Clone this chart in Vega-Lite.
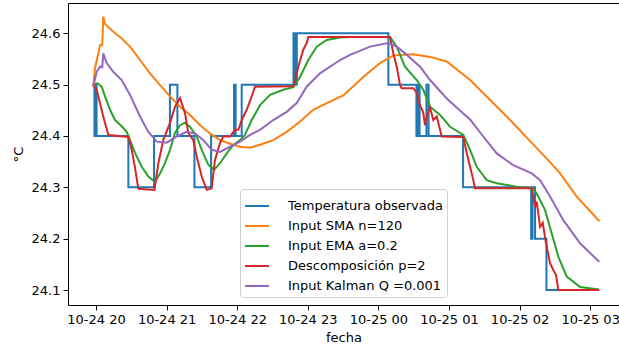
{
  "$schema": "https://vega.github.io/schema/vega-lite/v6.json",
  "width": 551,
  "height": 302,
  "autosize": {"type": "none"},
  "padding": {"left": 68, "top": 3, "right": 0, "bottom": 42},
  "config": {
    "font": "DejaVu Sans",
    "view": {"stroke": null},
    "axis": {
      "labelFontSize": 13, "titleFontSize": 13, "labelColor": "black", "titleColor": "black",
      "titleFontWeight": "normal", "domainColor": "black", "tickColor": "black", "grid": false,
      "tickSize": 5, "labelPadding": 3, "domainWidth": 1, "tickWidth": 1
    },
    "legend": {"labelFontSize": 13, "labelColor": "black"}
  },
  "datasets": {
    "obs": [
      {"fecha": "2021-10-24T19:57:00", "valor": 24.5, "serie": "Temperatura observada"},
      {"fecha": "2021-10-24T19:58:40", "valor": 24.4, "serie": "Temperatura observada"},
      {"fecha": "2021-10-24T19:59:30", "valor": 24.5, "serie": "Temperatura observada"},
      {"fecha": "2021-10-24T20:00:30", "valor": 24.4, "serie": "Temperatura observada"},
      {"fecha": "2021-10-24T20:27:30", "valor": 24.3, "serie": "Temperatura observada"},
      {"fecha": "2021-10-24T20:49:20", "valor": 24.4, "serie": "Temperatura observada"},
      {"fecha": "2021-10-24T21:02:50", "valor": 24.5, "serie": "Temperatura observada"},
      {"fecha": "2021-10-24T21:09:10", "valor": 24.4, "serie": "Temperatura observada"},
      {"fecha": "2021-10-24T21:23:40", "valor": 24.3, "serie": "Temperatura observada"},
      {"fecha": "2021-10-24T21:37:50", "valor": 24.4, "serie": "Temperatura observada"},
      {"fecha": "2021-10-24T21:57:20", "valor": 24.5, "serie": "Temperatura observada"},
      {"fecha": "2021-10-24T21:58:40", "valor": 24.4, "serie": "Temperatura observada"},
      {"fecha": "2021-10-24T22:03:50", "valor": 24.5, "serie": "Temperatura observada"},
      {"fecha": "2021-10-24T22:47:50", "valor": 24.6, "serie": "Temperatura observada"},
      {"fecha": "2021-10-24T22:49:10", "valor": 24.5, "serie": "Temperatura observada"},
      {"fecha": "2021-10-24T22:50:40", "valor": 24.6, "serie": "Temperatura observada"},
      {"fecha": "2021-10-25T00:08:30", "valor": 24.5, "serie": "Temperatura observada"},
      {"fecha": "2021-10-25T00:32:20", "valor": 24.4, "serie": "Temperatura observada"},
      {"fecha": "2021-10-25T00:33:40", "valor": 24.5, "serie": "Temperatura observada"},
      {"fecha": "2021-10-25T00:35:00", "valor": 24.4, "serie": "Temperatura observada"},
      {"fecha": "2021-10-25T00:40:50", "valor": 24.5, "serie": "Temperatura observada"},
      {"fecha": "2021-10-25T00:42:40", "valor": 24.4, "serie": "Temperatura observada"},
      {"fecha": "2021-10-25T01:12:00", "valor": 24.3, "serie": "Temperatura observada"},
      {"fecha": "2021-10-25T02:09:50", "valor": 24.2, "serie": "Temperatura observada"},
      {"fecha": "2021-10-25T02:11:00", "valor": 24.3, "serie": "Temperatura observada"},
      {"fecha": "2021-10-25T02:13:10", "valor": 24.2, "serie": "Temperatura observada"},
      {"fecha": "2021-10-25T02:22:50", "valor": 24.1, "serie": "Temperatura observada"},
      {"fecha": "2021-10-25T03:07:40", "valor": 24.1, "serie": "Temperatura observada"}
    ],
    "mod": [
      {"fecha": "2021-10-24T19:57:40", "valor": 24.496, "serie": "Input SMA n=120"},
      {"fecha": "2021-10-24T19:59:10", "valor": 24.532, "serie": "Input SMA n=120"},
      {"fecha": "2021-10-24T20:02:00", "valor": 24.561, "serie": "Input SMA n=120"},
      {"fecha": "2021-10-24T20:03:25", "valor": 24.577, "serie": "Input SMA n=120"},
      {"fecha": "2021-10-24T20:05:20", "valor": 24.577, "serie": "Input SMA n=120"},
      {"fecha": "2021-10-24T20:06:10", "valor": 24.632, "serie": "Input SMA n=120"},
      {"fecha": "2021-10-24T20:07:40", "valor": 24.618, "serie": "Input SMA n=120"},
      {"fecha": "2021-10-24T20:14:40", "valor": 24.603, "serie": "Input SMA n=120"},
      {"fecha": "2021-10-24T20:21:50", "valor": 24.590, "serie": "Input SMA n=120"},
      {"fecha": "2021-10-24T20:28:55", "valor": 24.574, "serie": "Input SMA n=120"},
      {"fecha": "2021-10-24T20:37:25", "valor": 24.548, "serie": "Input SMA n=120"},
      {"fecha": "2021-10-24T20:45:55", "valor": 24.522, "serie": "Input SMA n=120"},
      {"fecha": "2021-10-24T20:54:25", "valor": 24.499, "serie": "Input SMA n=120"},
      {"fecha": "2021-10-24T21:02:55", "valor": 24.477, "serie": "Input SMA n=120"},
      {"fecha": "2021-10-24T21:11:25", "valor": 24.457, "serie": "Input SMA n=120"},
      {"fecha": "2021-10-24T21:19:55", "valor": 24.441, "serie": "Input SMA n=120"},
      {"fecha": "2021-10-24T21:28:25", "valor": 24.421, "serie": "Input SMA n=120"},
      {"fecha": "2021-10-24T21:36:55", "valor": 24.405, "serie": "Input SMA n=120"},
      {"fecha": "2021-10-24T21:45:25", "valor": 24.392, "serie": "Input SMA n=120"},
      {"fecha": "2021-10-24T21:53:55", "valor": 24.385, "serie": "Input SMA n=120"},
      {"fecha": "2021-10-24T22:02:25", "valor": 24.379, "serie": "Input SMA n=120"},
      {"fecha": "2021-10-24T22:10:55", "valor": 24.377, "serie": "Input SMA n=120"},
      {"fecha": "2021-10-24T22:19:25", "valor": 24.383, "serie": "Input SMA n=120"},
      {"fecha": "2021-10-24T22:30:40", "valor": 24.392, "serie": "Input SMA n=120"},
      {"fecha": "2021-10-24T22:42:05", "valor": 24.408, "serie": "Input SMA n=120"},
      {"fecha": "2021-10-24T22:53:25", "valor": 24.428, "serie": "Input SMA n=120"},
      {"fecha": "2021-10-24T23:04:40", "valor": 24.451, "serie": "Input SMA n=120"},
      {"fecha": "2021-10-24T23:16:05", "valor": 24.464, "serie": "Input SMA n=120"},
      {"fecha": "2021-10-24T23:30:10", "valor": 24.479, "serie": "Input SMA n=120"},
      {"fecha": "2021-10-24T23:47:10", "valor": 24.515, "serie": "Input SMA n=120"},
      {"fecha": "2021-10-25T00:01:25", "valor": 24.542, "serie": "Input SMA n=120"},
      {"fecha": "2021-10-25T00:12:40", "valor": 24.557, "serie": "Input SMA n=120"},
      {"fecha": "2021-10-25T00:29:40", "valor": 24.559, "serie": "Input SMA n=120"},
      {"fecha": "2021-10-25T00:43:55", "valor": 24.554, "serie": "Input SMA n=120"},
      {"fecha": "2021-10-25T00:58:05", "valor": 24.545, "serie": "Input SMA n=120"},
      {"fecha": "2021-10-25T01:17:55", "valor": 24.509, "serie": "Input SMA n=120"},
      {"fecha": "2021-10-25T01:34:55", "valor": 24.470, "serie": "Input SMA n=120"},
      {"fecha": "2021-10-25T01:51:55", "valor": 24.431, "serie": "Input SMA n=120"},
      {"fecha": "2021-10-25T02:08:55", "valor": 24.390, "serie": "Input SMA n=120"},
      {"fecha": "2021-10-25T02:25:55", "valor": 24.349, "serie": "Input SMA n=120"},
      {"fecha": "2021-10-25T02:34:25", "valor": 24.327, "serie": "Input SMA n=120"},
      {"fecha": "2021-10-25T02:48:35", "valor": 24.282, "serie": "Input SMA n=120"},
      {"fecha": "2021-10-25T03:07:50", "valor": 24.234, "serie": "Input SMA n=120"},

      {"fecha": "2021-10-24T19:57:40", "valor": 24.499, "serie": "Input EMA a=0.2"},
      {"fecha": "2021-10-24T20:01:05", "valor": 24.503, "serie": "Input EMA a=0.2"},
      {"fecha": "2021-10-24T20:04:50", "valor": 24.496, "serie": "Input EMA a=0.2"},
      {"fecha": "2021-10-24T20:07:40", "valor": 24.477, "serie": "Input EMA a=0.2"},
      {"fecha": "2021-10-24T20:11:55", "valor": 24.451, "serie": "Input EMA a=0.2"},
      {"fecha": "2021-10-24T20:16:10", "valor": 24.431, "serie": "Input EMA a=0.2"},
      {"fecha": "2021-10-24T20:21:50", "valor": 24.419, "serie": "Input EMA a=0.2"},
      {"fecha": "2021-10-24T20:26:05", "valor": 24.408, "serie": "Input EMA a=0.2"},
      {"fecha": "2021-10-24T20:28:55", "valor": 24.392, "serie": "Input EMA a=0.2"},
      {"fecha": "2021-10-24T20:33:10", "valor": 24.367, "serie": "Input EMA a=0.2"},
      {"fecha": "2021-10-24T20:38:50", "valor": 24.340, "serie": "Input EMA a=0.2"},
      {"fecha": "2021-10-24T20:44:30", "valor": 24.321, "serie": "Input EMA a=0.2"},
      {"fecha": "2021-10-24T20:50:05", "valor": 24.311, "serie": "Input EMA a=0.2"},
      {"fecha": "2021-10-24T20:54:25", "valor": 24.327, "serie": "Input EMA a=0.2"},
      {"fecha": "2021-10-24T20:58:35", "valor": 24.347, "serie": "Input EMA a=0.2"},
      {"fecha": "2021-10-24T21:02:55", "valor": 24.373, "serie": "Input EMA a=0.2"},
      {"fecha": "2021-10-24T21:07:05", "valor": 24.406, "serie": "Input EMA a=0.2"},
      {"fecha": "2021-10-24T21:11:25", "valor": 24.421, "serie": "Input EMA a=0.2"},
      {"fecha": "2021-10-24T21:15:35", "valor": 24.426, "serie": "Input EMA a=0.2"},
      {"fecha": "2021-10-24T21:19:55", "valor": 24.418, "serie": "Input EMA a=0.2"},
      {"fecha": "2021-10-24T21:25:35", "valor": 24.399, "serie": "Input EMA a=0.2"},
      {"fecha": "2021-10-24T21:29:50", "valor": 24.373, "serie": "Input EMA a=0.2"},
      {"fecha": "2021-10-24T21:35:25", "valor": 24.344, "serie": "Input EMA a=0.2"},
      {"fecha": "2021-10-24T21:40:20", "valor": 24.334, "serie": "Input EMA a=0.2"},
      {"fecha": "2021-10-24T21:45:25", "valor": 24.347, "serie": "Input EMA a=0.2"},
      {"fecha": "2021-10-24T21:51:05", "valor": 24.366, "serie": "Input EMA a=0.2"},
      {"fecha": "2021-10-24T21:56:40", "valor": 24.382, "serie": "Input EMA a=0.2"},
      {"fecha": "2021-10-24T22:02:25", "valor": 24.392, "serie": "Input EMA a=0.2"},
      {"fecha": "2021-10-24T22:06:35", "valor": 24.402, "serie": "Input EMA a=0.2"},
      {"fecha": "2021-10-24T22:12:20", "valor": 24.431, "serie": "Input EMA a=0.2"},
      {"fecha": "2021-10-24T22:19:25", "valor": 24.460, "serie": "Input EMA a=0.2"},
      {"fecha": "2021-10-24T22:27:55", "valor": 24.480, "serie": "Input EMA a=0.2"},
      {"fecha": "2021-10-24T22:39:10", "valor": 24.490, "serie": "Input EMA a=0.2"},
      {"fecha": "2021-10-24T22:47:40", "valor": 24.495, "serie": "Input EMA a=0.2"},
      {"fecha": "2021-10-24T22:53:25", "valor": 24.515, "serie": "Input EMA a=0.2"},
      {"fecha": "2021-10-24T23:00:25", "valor": 24.548, "serie": "Input EMA a=0.2"},
      {"fecha": "2021-10-24T23:07:35", "valor": 24.574, "serie": "Input EMA a=0.2"},
      {"fecha": "2021-10-24T23:16:05", "valor": 24.587, "serie": "Input EMA a=0.2"},
      {"fecha": "2021-10-24T23:27:25", "valor": 24.592, "serie": "Input EMA a=0.2"},
      {"fecha": "2021-10-24T23:35:55", "valor": 24.593, "serie": "Input EMA a=0.2"},
      {"fecha": "2021-10-25T00:09:55", "valor": 24.593, "serie": "Input EMA a=0.2"},
      {"fecha": "2021-10-25T00:15:35", "valor": 24.574, "serie": "Input EMA a=0.2"},
      {"fecha": "2021-10-25T00:22:35", "valor": 24.535, "serie": "Input EMA a=0.2"},
      {"fecha": "2021-10-25T00:32:35", "valor": 24.509, "serie": "Input EMA a=0.2"},
      {"fecha": "2021-10-25T00:38:10", "valor": 24.490, "serie": "Input EMA a=0.2"},
      {"fecha": "2021-10-25T00:43:55", "valor": 24.457, "serie": "Input EMA a=0.2"},
      {"fecha": "2021-10-25T00:52:25", "valor": 24.441, "serie": "Input EMA a=0.2"},
      {"fecha": "2021-10-25T01:00:55", "valor": 24.418, "serie": "Input EMA a=0.2"},
      {"fecha": "2021-10-25T01:12:10", "valor": 24.402, "serie": "Input EMA a=0.2"},
      {"fecha": "2021-10-25T01:17:55", "valor": 24.373, "serie": "Input EMA a=0.2"},
      {"fecha": "2021-10-25T01:23:35", "valor": 24.340, "serie": "Input EMA a=0.2"},
      {"fecha": "2021-10-25T01:32:05", "valor": 24.314, "serie": "Input EMA a=0.2"},
      {"fecha": "2021-10-25T01:40:35", "valor": 24.308, "serie": "Input EMA a=0.2"},
      {"fecha": "2021-10-25T01:57:35", "valor": 24.301, "serie": "Input EMA a=0.2"},
      {"fecha": "2021-10-25T02:11:45", "valor": 24.298, "serie": "Input EMA a=0.2"},
      {"fecha": "2021-10-25T02:15:55", "valor": 24.282, "serie": "Input EMA a=0.2"},
      {"fecha": "2021-10-25T02:21:35", "valor": 24.256, "serie": "Input EMA a=0.2"},
      {"fecha": "2021-10-25T02:27:20", "valor": 24.210, "serie": "Input EMA a=0.2"},
      {"fecha": "2021-10-25T02:32:55", "valor": 24.165, "serie": "Input EMA a=0.2"},
      {"fecha": "2021-10-25T02:40:05", "valor": 24.126, "serie": "Input EMA a=0.2"},
      {"fecha": "2021-10-25T02:51:25", "valor": 24.106, "serie": "Input EMA a=0.2"},
      {"fecha": "2021-10-25T03:07:40", "valor": 24.101, "serie": "Input EMA a=0.2"},

      {"fecha": "2021-10-24T19:57:40", "valor": 24.499, "serie": "Descomposición p=2"},
      {"fecha": "2021-10-24T20:00:36", "valor": 24.490, "serie": "Descomposición p=2"},
      {"fecha": "2021-10-24T20:06:10", "valor": 24.438, "serie": "Descomposición p=2"},
      {"fecha": "2021-10-24T20:10:30", "valor": 24.402, "serie": "Descomposición p=2"},
      {"fecha": "2021-10-24T20:27:30", "valor": 24.398, "serie": "Descomposición p=2"},
      {"fecha": "2021-10-24T20:30:20", "valor": 24.373, "serie": "Descomposición p=2"},
      {"fecha": "2021-10-24T20:33:10", "valor": 24.338, "serie": "Descomposición p=2"},
      {"fecha": "2021-10-24T20:36:00", "valor": 24.297, "serie": "Descomposición p=2"},
      {"fecha": "2021-10-24T20:49:40", "valor": 24.295, "serie": "Descomposición p=2"},
      {"fecha": "2021-10-24T20:53:00", "valor": 24.347, "serie": "Descomposición p=2"},
      {"fecha": "2021-10-24T20:57:10", "valor": 24.392, "serie": "Descomposición p=2"},
      {"fecha": "2021-10-24T21:02:50", "valor": 24.425, "serie": "Descomposición p=2"},
      {"fecha": "2021-10-24T21:07:10", "valor": 24.457, "serie": "Descomposición p=2"},
      {"fecha": "2021-10-24T21:11:25", "valor": 24.474, "serie": "Descomposición p=2"},
      {"fecha": "2021-10-24T21:15:35", "valor": 24.445, "serie": "Descomposición p=2"},
      {"fecha": "2021-10-24T21:18:25", "valor": 24.406, "serie": "Descomposición p=2"},
      {"fecha": "2021-10-24T21:22:40", "valor": 24.392, "serie": "Descomposición p=2"},
      {"fecha": "2021-10-24T21:25:35", "valor": 24.360, "serie": "Descomposición p=2"},
      {"fecha": "2021-10-24T21:29:50", "valor": 24.321, "serie": "Descomposición p=2"},
      {"fecha": "2021-10-24T21:34:05", "valor": 24.295, "serie": "Descomposición p=2"},
      {"fecha": "2021-10-24T21:38:20", "valor": 24.298, "serie": "Descomposición p=2"},
      {"fecha": "2021-10-24T21:41:05", "valor": 24.353, "serie": "Descomposición p=2"},
      {"fecha": "2021-10-24T21:45:25", "valor": 24.386, "serie": "Descomposición p=2"},
      {"fecha": "2021-10-24T21:48:10", "valor": 24.399, "serie": "Descomposición p=2"},
      {"fecha": "2021-10-24T21:53:55", "valor": 24.399, "serie": "Descomposición p=2"},
      {"fecha": "2021-10-24T21:58:05", "valor": 24.412, "serie": "Descomposición p=2"},
      {"fecha": "2021-10-24T22:01:00", "valor": 24.412, "serie": "Descomposición p=2"},
      {"fecha": "2021-10-24T22:03:50", "valor": 24.431, "serie": "Descomposición p=2"},
      {"fecha": "2021-10-24T22:08:05", "valor": 24.451, "serie": "Descomposición p=2"},
      {"fecha": "2021-10-24T22:12:20", "valor": 24.477, "serie": "Descomposición p=2"},
      {"fecha": "2021-10-24T22:15:05", "valor": 24.496, "serie": "Descomposición p=2"},
      {"fecha": "2021-10-24T22:47:40", "valor": 24.497, "serie": "Descomposición p=2"},
      {"fecha": "2021-10-24T22:49:05", "valor": 24.506, "serie": "Descomposición p=2"},
      {"fecha": "2021-10-24T22:51:55", "valor": 24.535, "serie": "Descomposición p=2"},
      {"fecha": "2021-10-24T22:56:10", "valor": 24.568, "serie": "Descomposición p=2"},
      {"fecha": "2021-10-24T22:59:05", "valor": 24.581, "serie": "Descomposición p=2"},
      {"fecha": "2021-10-24T23:00:25", "valor": 24.593, "serie": "Descomposición p=2"},
      {"fecha": "2021-10-25T00:09:55", "valor": 24.593, "serie": "Descomposición p=2"},
      {"fecha": "2021-10-25T00:12:40", "valor": 24.561, "serie": "Descomposición p=2"},
      {"fecha": "2021-10-25T00:15:35", "valor": 24.535, "serie": "Descomposición p=2"},
      {"fecha": "2021-10-25T00:18:25", "valor": 24.499, "serie": "Descomposición p=2"},
      {"fecha": "2021-10-25T00:19:50", "valor": 24.493, "serie": "Descomposición p=2"},
      {"fecha": "2021-10-25T00:29:40", "valor": 24.493, "serie": "Descomposición p=2"},
      {"fecha": "2021-10-25T00:32:35", "valor": 24.484, "serie": "Descomposición p=2"},
      {"fecha": "2021-10-25T00:35:25", "valor": 24.460, "serie": "Descomposición p=2"},
      {"fecha": "2021-10-25T00:38:10", "valor": 24.445, "serie": "Descomposición p=2"},
      {"fecha": "2021-10-25T00:39:35", "valor": 24.421, "serie": "Descomposición p=2"},
      {"fecha": "2021-10-25T00:41:05", "valor": 24.438, "serie": "Descomposición p=2"},
      {"fecha": "2021-10-25T00:43:55", "valor": 24.455, "serie": "Descomposición p=2"},
      {"fecha": "2021-10-25T00:46:40", "valor": 24.431, "serie": "Descomposición p=2"},
      {"fecha": "2021-10-25T00:49:35", "valor": 24.438, "serie": "Descomposición p=2"},
      {"fecha": "2021-10-25T00:52:25", "valor": 24.412, "serie": "Descomposición p=2"},
      {"fecha": "2021-10-25T00:53:50", "valor": 24.399, "serie": "Descomposición p=2"},
      {"fecha": "2021-10-25T01:12:10", "valor": 24.398, "serie": "Descomposición p=2"},
      {"fecha": "2021-10-25T01:15:05", "valor": 24.367, "serie": "Descomposición p=2"},
      {"fecha": "2021-10-25T01:17:55", "valor": 24.340, "serie": "Descomposición p=2"},
      {"fecha": "2021-10-25T01:20:40", "valor": 24.314, "serie": "Descomposición p=2"},
      {"fecha": "2021-10-25T01:22:05", "valor": 24.298, "serie": "Descomposición p=2"},
      {"fecha": "2021-10-25T02:10:20", "valor": 24.298, "serie": "Descomposición p=2"},
      {"fecha": "2021-10-25T02:13:10", "valor": 24.262, "serie": "Descomposición p=2"},
      {"fecha": "2021-10-25T02:14:35", "valor": 24.272, "serie": "Descomposición p=2"},
      {"fecha": "2021-10-25T02:17:25", "valor": 24.223, "serie": "Descomposición p=2"},
      {"fecha": "2021-10-25T02:19:40", "valor": 24.231, "serie": "Descomposición p=2"},
      {"fecha": "2021-10-25T02:22:30", "valor": 24.191, "serie": "Descomposición p=2"},
      {"fecha": "2021-10-25T02:25:55", "valor": 24.152, "serie": "Descomposición p=2"},
      {"fecha": "2021-10-25T02:28:40", "valor": 24.139, "serie": "Descomposición p=2"},
      {"fecha": "2021-10-25T02:31:00", "valor": 24.129, "serie": "Descomposición p=2"},
      {"fecha": "2021-10-25T02:32:55", "valor": 24.100, "serie": "Descomposición p=2"},
      {"fecha": "2021-10-25T03:07:40", "valor": 24.100, "serie": "Descomposición p=2"},

      {"fecha": "2021-10-24T19:57:40", "valor": 24.496, "serie": "Input Kalman Q =0.001"},
      {"fecha": "2021-10-24T20:00:35", "valor": 24.525, "serie": "Input Kalman Q =0.001"},
      {"fecha": "2021-10-24T20:03:25", "valor": 24.535, "serie": "Input Kalman Q =0.001"},
      {"fecha": "2021-10-24T20:05:20", "valor": 24.534, "serie": "Input Kalman Q =0.001"},
      {"fecha": "2021-10-24T20:06:10", "valor": 24.561, "serie": "Input Kalman Q =0.001"},
      {"fecha": "2021-10-24T20:09:05", "valor": 24.542, "serie": "Input Kalman Q =0.001"},
      {"fecha": "2021-10-24T20:14:40", "valor": 24.525, "serie": "Input Kalman Q =0.001"},
      {"fecha": "2021-10-24T20:21:50", "valor": 24.509, "serie": "Input Kalman Q =0.001"},
      {"fecha": "2021-10-24T20:28:55", "valor": 24.480, "serie": "Input Kalman Q =0.001"},
      {"fecha": "2021-10-24T20:37:25", "valor": 24.438, "serie": "Input Kalman Q =0.001"},
      {"fecha": "2021-10-24T20:44:30", "valor": 24.408, "serie": "Input Kalman Q =0.001"},
      {"fecha": "2021-10-24T20:51:35", "valor": 24.389, "serie": "Input Kalman Q =0.001"},
      {"fecha": "2021-10-24T21:00:05", "valor": 24.387, "serie": "Input Kalman Q =0.001"},
      {"fecha": "2021-10-24T21:08:35", "valor": 24.399, "serie": "Input Kalman Q =0.001"},
      {"fecha": "2021-10-24T21:17:05", "valor": 24.408, "serie": "Input Kalman Q =0.001"},
      {"fecha": "2021-10-24T21:24:05", "valor": 24.405, "serie": "Input Kalman Q =0.001"},
      {"fecha": "2021-10-24T21:31:10", "valor": 24.392, "serie": "Input Kalman Q =0.001"},
      {"fecha": "2021-10-24T21:38:20", "valor": 24.373, "serie": "Input Kalman Q =0.001"},
      {"fecha": "2021-10-24T21:45:25", "valor": 24.369, "serie": "Input Kalman Q =0.001"},
      {"fecha": "2021-10-24T21:53:55", "valor": 24.379, "serie": "Input Kalman Q =0.001"},
      {"fecha": "2021-10-24T22:02:25", "valor": 24.389, "serie": "Input Kalman Q =0.001"},
      {"fecha": "2021-10-24T22:10:55", "valor": 24.402, "serie": "Input Kalman Q =0.001"},
      {"fecha": "2021-10-24T22:19:25", "valor": 24.412, "serie": "Input Kalman Q =0.001"},
      {"fecha": "2021-10-24T22:30:40", "valor": 24.431, "serie": "Input Kalman Q =0.001"},
      {"fecha": "2021-10-24T22:42:05", "valor": 24.447, "serie": "Input Kalman Q =0.001"},
      {"fecha": "2021-10-24T22:50:35", "valor": 24.464, "serie": "Input Kalman Q =0.001"},
      {"fecha": "2021-10-24T22:59:05", "valor": 24.496, "serie": "Input Kalman Q =0.001"},
      {"fecha": "2021-10-24T23:10:25", "valor": 24.522, "serie": "Input Kalman Q =0.001"},
      {"fecha": "2021-10-24T23:27:25", "valor": 24.548, "serie": "Input Kalman Q =0.001"},
      {"fecha": "2021-10-24T23:35:55", "valor": 24.558, "serie": "Input Kalman Q =0.001"},
      {"fecha": "2021-10-24T23:52:55", "valor": 24.574, "serie": "Input Kalman Q =0.001"},
      {"fecha": "2021-10-25T00:08:25", "valor": 24.581, "serie": "Input Kalman Q =0.001"},
      {"fecha": "2021-10-25T00:15:35", "valor": 24.574, "serie": "Input Kalman Q =0.001"},
      {"fecha": "2021-10-25T00:24:05", "valor": 24.558, "serie": "Input Kalman Q =0.001"},
      {"fecha": "2021-10-25T00:35:25", "valor": 24.535, "serie": "Input Kalman Q =0.001"},
      {"fecha": "2021-10-25T00:43:55", "valor": 24.509, "serie": "Input Kalman Q =0.001"},
      {"fecha": "2021-10-25T00:58:05", "valor": 24.473, "serie": "Input Kalman Q =0.001"},
      {"fecha": "2021-10-25T01:12:10", "valor": 24.444, "serie": "Input Kalman Q =0.001"},
      {"fecha": "2021-10-25T01:17:55", "valor": 24.432, "serie": "Input Kalman Q =0.001"},
      {"fecha": "2021-10-25T01:29:10", "valor": 24.399, "serie": "Input Kalman Q =0.001"},
      {"fecha": "2021-10-25T01:40:35", "valor": 24.366, "serie": "Input Kalman Q =0.001"},
      {"fecha": "2021-10-25T01:54:40", "valor": 24.343, "serie": "Input Kalman Q =0.001"},
      {"fecha": "2021-10-25T02:10:20", "valor": 24.327, "serie": "Input Kalman Q =0.001"},
      {"fecha": "2021-10-25T02:17:25", "valor": 24.314, "serie": "Input Kalman Q =0.001"},
      {"fecha": "2021-10-25T02:25:55", "valor": 24.282, "serie": "Input Kalman Q =0.001"},
      {"fecha": "2021-10-25T02:37:10", "valor": 24.236, "serie": "Input Kalman Q =0.001"},
      {"fecha": "2021-10-25T02:51:25", "valor": 24.191, "serie": "Input Kalman Q =0.001"},
      {"fecha": "2021-10-25T03:07:40", "valor": 24.155, "serie": "Input Kalman Q =0.001"}
    ]
  },
  "encoding": {
    "y": {
      "field": "valor", "type": "quantitative",
      "scale": {"domain": [24.0708, 24.659], "nice": false, "zero": false},
      "axis": {"title": "°C", "values": [24.1, 24.2, 24.3, 24.4, 24.5, 24.6], "format": ".1f", "titlePadding": 6}
    },
    "color": {
      "field": "serie", "type": "nominal",
      "scale": {
        "domain": ["Temperatura observada", "Input SMA n=120", "Input EMA a=0.2", "Descomposición p=2", "Input Kalman Q =0.001"],
        "range": ["#1f77b4", "#ff7f0e", "#2ca02c", "#d62728", "#9467bd"]
      },
      "legend": {
        "title": null, "orient": "none", "legendX": 172, "legendY": 186,
        "symbolType": "stroke", "symbolStrokeWidth": 2, "symbolSize": 576,
        "labelFontSize": 13, "labelLimit": 300, "labelOffset": 18,
        "fillColor": "rgba(255,255,255,0.8)", "strokeColor": "#d0d0d0", "cornerRadius": 3,
        "padding": 4, "rowPadding": -1
      }
    }
  },
  "layer": [
    {
      "data": {"name": "obs"},
      "mark": {"type": "line", "interpolate": "step-after", "strokeWidth": 2},
      "encoding": {
        "x": {
          "field": "fecha", "type": "temporal",
          "scale": {"domain": [
            {"year": 2021, "month": 10, "date": 24, "hours": 19, "minutes": 36, "seconds": 12},
            {"year": 2021, "month": 10, "date": 25, "hours": 3, "minutes": 24, "seconds": 30}
          ]},
          "axis": {
            "title": "fecha", "format": "%m-%d %H", "titlePadding": 5,
            "values": [
              {"year": 2021, "month": 10, "date": 24, "hours": 20},
              {"year": 2021, "month": 10, "date": 24, "hours": 21},
              {"year": 2021, "month": 10, "date": 24, "hours": 22},
              {"year": 2021, "month": 10, "date": 24, "hours": 23},
              {"year": 2021, "month": 10, "date": 25, "hours": 0},
              {"year": 2021, "month": 10, "date": 25, "hours": 1},
              {"year": 2021, "month": 10, "date": 25, "hours": 2},
              {"year": 2021, "month": 10, "date": 25, "hours": 3}
            ]
          }
        }
      }
    },
    {
      "data": {"name": "mod"},
      "mark": {"type": "line", "strokeWidth": 2},
      "encoding": {
        "x": {
          "field": "fecha", "type": "temporal",
          "axis": {"orient": "top", "title": null, "labels": false, "ticks": false, "domain": true}
        }
      }
    }
  ],
  "resolve": {"axis": {"x": "independent"}}
}
